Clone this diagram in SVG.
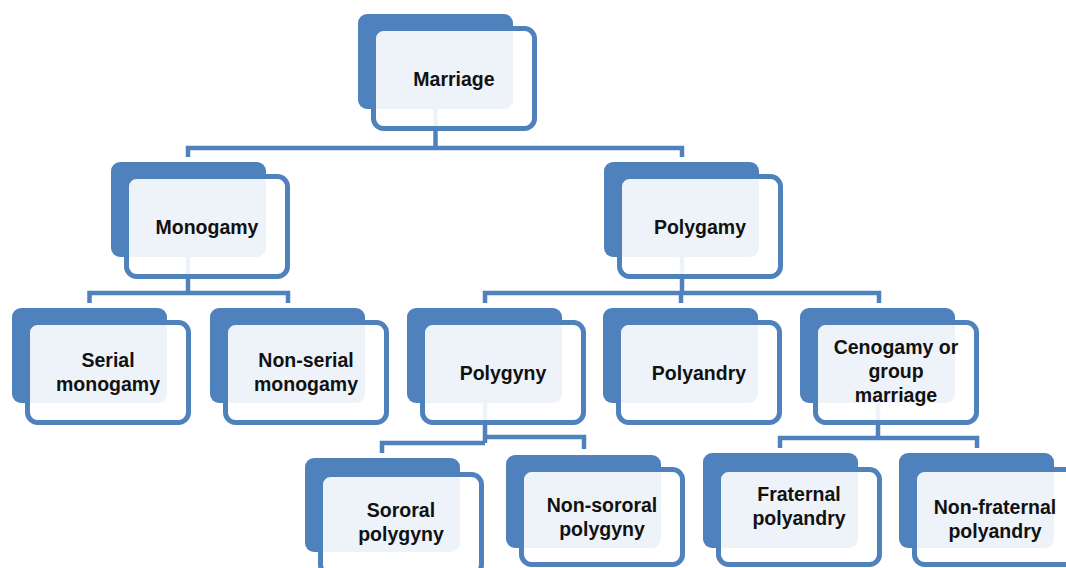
<svg xmlns="http://www.w3.org/2000/svg" width="1066" height="568" viewBox="0 0 1066 568">
<style>
.bk{fill:#4F81BD;}
.fr{fill:#FFFFFF;fill-opacity:0.9;stroke:#4F81BD;stroke-width:5;}
.cn{fill:none;stroke:#4F81BD;stroke-width:4.5;}
text{font-family:"Liberation Sans",Arial,sans-serif;font-weight:bold;font-size:19.5px;fill:#111;text-anchor:middle;}
</style>
<rect width="1066" height="568" fill="#FFFFFF"/>
<g id="connectors">
<path class="cn" d="M435.5,108 V148 M188,157 V148 H682 V157"/>
<path class="cn" d="M188,256 V293 M89.5,303 V293 H288 V303"/>
<path class="cn" d="M682,256 V293 M485,303 V293 H879 V303 M681,293 V303"/>
<path class="cn" d="M485,402 V443 M382,453 V443 H485 M485,437 H584 V449"/>
<path class="cn" d="M878,402 V438 M780,448 V438 H977 V448"/>
</g>
<g id="marriage" transform="translate(358,14)">
<rect class="bk" width="155" height="95" rx="9"/>
<rect class="fr" x="15.5" y="14.5" width="161" height="100" rx="10"/>
<text x="96" y="71.5">Marriage</text>
</g>
<g id="monogamy" transform="translate(111,162)">
<rect class="bk" width="155" height="95" rx="9"/>
<rect class="fr" x="15.5" y="14.5" width="161" height="100" rx="10"/>
<text x="96" y="71.5">Monogamy</text>
</g>
<g id="polygamy" transform="translate(604,162)">
<rect class="bk" width="155" height="95" rx="9"/>
<rect class="fr" x="15.5" y="14.5" width="161" height="100" rx="10"/>
<text x="96" y="71.5">Polygamy</text>
</g>
<g id="serial" transform="translate(12,308)">
<rect class="bk" width="155" height="95" rx="9"/>
<rect class="fr" x="15.5" y="14.5" width="161" height="100" rx="10"/>
<text x="96" y="59">Serial</text>
<text x="96" y="83">monogamy</text>
</g>
<g id="nonserial" transform="translate(210,308)">
<rect class="bk" width="155" height="95" rx="9"/>
<rect class="fr" x="15.5" y="14.5" width="161" height="100" rx="10"/>
<text x="96" y="59">Non-serial</text>
<text x="96" y="83">monogamy</text>
</g>
<g id="polygyny" transform="translate(407,308)">
<rect class="bk" width="155" height="95" rx="9"/>
<rect class="fr" x="15.5" y="14.5" width="161" height="100" rx="10"/>
<text x="96" y="71.5">Polygyny</text>
</g>
<g id="polyandry" transform="translate(603,308)">
<rect class="bk" width="155" height="95" rx="9"/>
<rect class="fr" x="15.5" y="14.5" width="161" height="100" rx="10"/>
<text x="96" y="71.5">Polyandry</text>
</g>
<g id="cenogamy" transform="translate(800,308)">
<rect class="bk" width="155" height="95" rx="9"/>
<rect class="fr" x="15.5" y="14.5" width="161" height="100" rx="10"/>
<text x="96" y="46">Cenogamy or</text>
<text x="96" y="70">group</text>
<text x="96" y="94">marriage</text>
</g>
<g id="sororal" transform="translate(305,458)">
<rect class="bk" width="155" height="94" rx="9"/>
<rect class="fr" x="15.5" y="16.5" width="161" height="100" rx="10"/>
<text x="96" y="59">Sororal</text>
<text x="96" y="83">polygyny</text>
</g>
<g id="nonsororal" transform="translate(506,455)">
<rect class="bk" width="155" height="93" rx="9"/>
<rect class="fr" x="15.5" y="14.5" width="161" height="95" rx="10"/>
<text x="96" y="57">Non-sororal</text>
<text x="96" y="81">polygyny</text>
</g>
<g id="fraternal" transform="translate(703,453)">
<rect class="bk" width="155" height="95" rx="9"/>
<rect class="fr" x="15.5" y="16.5" width="161" height="95" rx="10"/>
<text x="96" y="48">Fraternal</text>
<text x="96" y="72">polyandry</text>
</g>
<g id="nonfraternal" transform="translate(899,453)">
<rect class="bk" width="155" height="95" rx="9"/>
<rect class="fr" x="15.5" y="16.5" width="161" height="95" rx="10"/>
<text x="96" y="61">Non-fraternal</text>
<text x="96" y="85">polyandry</text>
</g>
</svg>
